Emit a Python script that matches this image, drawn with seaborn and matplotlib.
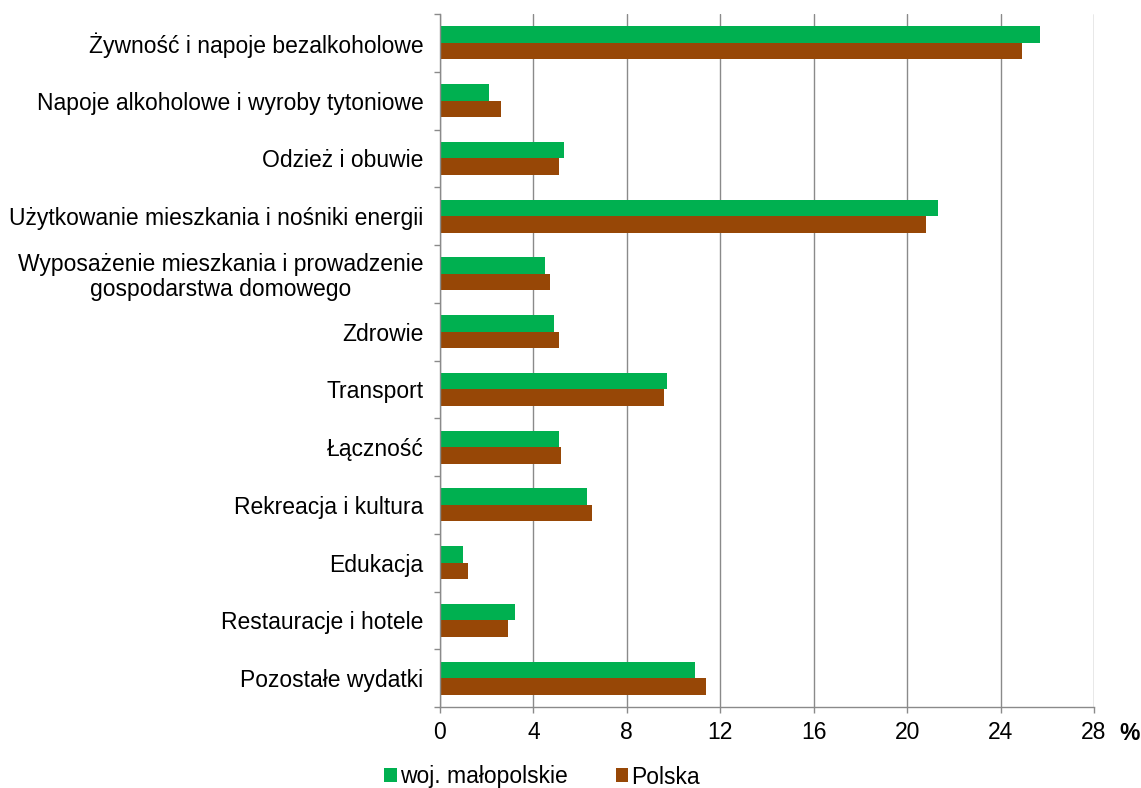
import matplotlib
matplotlib.use("Agg")
import matplotlib.pyplot as plt
import seaborn as sns
import pandas as pd
from matplotlib.patches import Patch

categories = [
    "Żywność i napoje bezalkoholowe",
    "Napoje alkoholowe i wyroby tytoniowe",
    "Odzież i obuwie",
    "Użytkowanie mieszkania i nośniki energii",
    "Wyposażenie mieszkania i prowadzenie\ngospodarstwa domowego",
    "Zdrowie",
    "Transport",
    "Łączność",
    "Rekreacja i kultura",
    "Edukacja",
    "Restauracje i hotele",
    "Pozostałe wydatki",
]
malopolskie = [25.7, 2.1, 5.3, 21.3, 4.5, 4.9, 9.7, 5.1, 6.3, 1.0, 3.2, 10.9]
polska = [24.9, 2.6, 5.1, 20.8, 4.7, 5.1, 9.6, 5.2, 6.5, 1.2, 2.9, 11.4]
series = ["woj. małopolskie", "Polska"]
x_ticks = [0, 4, 8, 12, 16, 20, 24, 28]

colors = ["#00B050", "#974706"]

df = pd.DataFrame({
    "kategoria": categories * 2,
    "wartosc": malopolskie + polska,
    "seria": [series[0]] * len(categories) + [series[1]] * len(categories),
})

sns.set_style("white")
plt.rcParams["font.family"] = ["Liberation Sans", "DejaVu Sans"]
plt.rcParams["text.color"] = "black"
plt.rcParams["xtick.color"] = "black"
plt.rcParams["ytick.color"] = "black"

FS = 16.5

fig = plt.figure(figsize=(11.41, 7.88), dpi=100)
ax = fig.add_axes([440 / 1141, 1 - 707 / 788, (1094 - 440) / 1141, (707 - 14) / 788])

sns.barplot(data=df, x="wartosc", y="kategoria", hue="seria", order=categories,
            hue_order=series, palette=colors, orient="h", width=0.57,
            saturation=1, ax=ax, legend=False, linewidth=0)

ax.set_xlim(0, 28)
ax.set_ylim(len(categories) - 0.5, -0.5)
ax.set_xticks(x_ticks)
ax.set_xticklabels([str(t) for t in x_ticks], fontsize=FS)
ax.set_xlabel("")
ax.set_ylabel("")

grid_color = "#8A8A8A"
ax.grid(axis="x", color=grid_color, linewidth=1.0)
ax.grid(axis="y", visible=False)
ax.set_axisbelow(True)

for s in ["top", "right"]:
    ax.spines[s].set_visible(False)
for s in ["left", "bottom"]:
    ax.spines[s].set_color(grid_color)
    ax.spines[s].set_linewidth(1.0)

# y ticks: labels at centres, marks at boundaries
ax.set_yticks(range(len(categories)))
ax.set_yticklabels(categories, fontsize=FS)
ax.tick_params(axis="y", which="major", left=True, length=0, pad=12)
ax.set_yticks([i - 0.5 for i in range(len(categories) + 1)], minor=True)
ax.tick_params(axis="y", which="minor", left=True, length=4.3, color=grid_color,
               width=1.0, direction="out")
ax.tick_params(axis="x", which="major", bottom=True, length=4.3, color=grid_color,
               width=1.0, direction="out", pad=6)
for lbl in ax.get_yticklabels():
    lbl.set_multialignment("center")
    lbl.set_linespacing(1.1)

fig.text(1130 / 1141, 1 - 733 / 788, "%", fontsize=FS, fontweight="bold",
         ha="center", va="center")

handles = [Patch(facecolor=c, edgecolor="none") for c in colors]
fig.legend(handles, series, loc="center", bbox_to_anchor=(542 / 1141, 1 - 777 / 788),
           ncol=2, frameon=False, fontsize=FS, handlelength=0.55, handleheight=0.55,
           handletextpad=0.12, columnspacing=2.1, borderpad=0, borderaxespad=0)

fig.savefig("out.png", dpi=100)
